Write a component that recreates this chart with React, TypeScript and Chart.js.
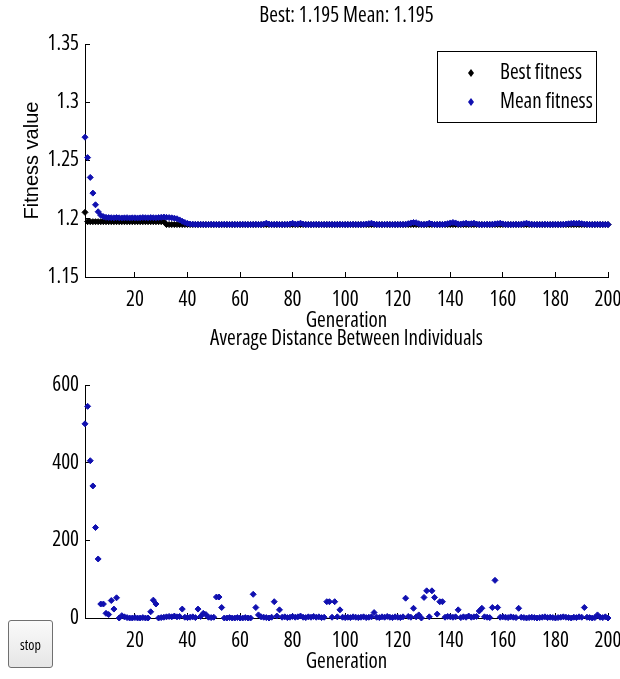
import React, { useEffect, useRef } from "react";
import { Chart, registerables } from "chart.js";

Chart.register(...registerables);

// ---------- data ----------
const generations: number[] = Array.from({ length: 200 }, (_, i) => i + 1);
const xTickValues = [20, 40, 60, 80, 100, 120, 140, 160, 180, 200];
const fitnessTickValues = [1.15, 1.2, 1.25, 1.3, 1.35];
const fitnessTickLabels = ["1.15", "1.2", "1.25", "1.3", "1.35"];
const distanceTickValues = [0, 200, 400, 600];

const topTitle = "Best: 1.195 Mean: 1.195";
const bottomTitle = "Average Distance Between Individuals";
const xLabel = "Generation";
const yLabelTop = "Fitness value";
const seriesLabels = ["Best fitness", "Mean fitness"];

const bestFitness = [
  1.2055, 1.1975, 1.1975, 1.1975, 1.1975, 1.1975, 1.1975, 1.1975, 1.1975, 1.1975,
  1.1975, 1.1975, 1.1975, 1.1975, 1.1975, 1.1975, 1.1975, 1.1975, 1.1975, 1.1975,
  1.1975, 1.1975, 1.1975, 1.1975, 1.1975, 1.1975, 1.1975, 1.1975, 1.1975, 1.1975,
  1.1975, 1.195, 1.195, 1.195, 1.195, 1.195, 1.195, 1.195, 1.195, 1.195,
  1.195, 1.195, 1.195, 1.195, 1.195, 1.195, 1.195, 1.195, 1.195, 1.195,
  1.195, 1.195, 1.195, 1.195, 1.195, 1.195, 1.195, 1.195, 1.195, 1.195,
  1.195, 1.195, 1.195, 1.195, 1.195, 1.195, 1.195, 1.195, 1.195, 1.195,
  1.195, 1.195, 1.195, 1.195, 1.195, 1.195, 1.195, 1.195, 1.195, 1.195,
  1.195, 1.195, 1.195, 1.195, 1.195, 1.195, 1.195, 1.195, 1.195, 1.195,
  1.195, 1.195, 1.195, 1.195, 1.195, 1.195, 1.195, 1.195, 1.195, 1.195,
  1.195, 1.195, 1.195, 1.195, 1.195, 1.195, 1.195, 1.195, 1.195, 1.195,
  1.195, 1.195, 1.195, 1.195, 1.195, 1.195, 1.195, 1.195, 1.195, 1.195,
  1.195, 1.195, 1.195, 1.195, 1.195, 1.195, 1.195, 1.195, 1.195, 1.195,
  1.195, 1.195, 1.195, 1.195, 1.195, 1.195, 1.195, 1.195, 1.195, 1.195,
  1.195, 1.195, 1.195, 1.195, 1.195, 1.195, 1.195, 1.195, 1.195, 1.195,
  1.195, 1.195, 1.195, 1.195, 1.195, 1.195, 1.195, 1.195, 1.195, 1.195,
  1.195, 1.195, 1.195, 1.195, 1.195, 1.195, 1.195, 1.195, 1.195, 1.195,
  1.195, 1.195, 1.195, 1.195, 1.195, 1.195, 1.195, 1.195, 1.195, 1.195,
  1.195, 1.195, 1.195, 1.195, 1.195, 1.195, 1.195, 1.195, 1.195, 1.195,
  1.195, 1.195, 1.195, 1.195, 1.195, 1.195, 1.195, 1.195, 1.195, 1.195,
];

const meanFitness = [
  1.27, 1.2525, 1.2355, 1.222, 1.212, 1.206, 1.203, 1.2018, 1.2012, 1.201,
  1.2009, 1.2008, 1.201, 1.2008, 1.2007, 1.2008, 1.2009, 1.2007, 1.2008, 1.2008,
  1.2007, 1.2008, 1.201, 1.2009, 1.2008, 1.201, 1.2009, 1.2008, 1.201, 1.2012,
  1.2015, 1.2012, 1.201, 1.2008, 1.2005, 1.2, 1.199, 1.1978, 1.1968, 1.196,
  1.1955, 1.1953, 1.1952, 1.1951, 1.1952, 1.1951, 1.195, 1.1951, 1.1952, 1.1951,
  1.1951, 1.195, 1.1951, 1.1952, 1.1951, 1.195, 1.1951, 1.1951, 1.195, 1.1951,
  1.1952, 1.1951, 1.195, 1.1951, 1.1951, 1.1952, 1.1951, 1.195, 1.1955, 1.1962,
  1.1954, 1.1951, 1.1951, 1.1952, 1.1951, 1.195, 1.1951, 1.1952, 1.1955, 1.1961,
  1.1954, 1.1956, 1.1962, 1.1955, 1.1951, 1.1951, 1.195, 1.1951, 1.1952, 1.1951,
  1.195, 1.1951, 1.1951, 1.1952, 1.1951, 1.195, 1.1951, 1.1952, 1.1951, 1.195,
  1.1951, 1.1951, 1.1952, 1.1951, 1.195, 1.1951, 1.1952, 1.1954, 1.1958, 1.1962,
  1.1955, 1.1951, 1.1951, 1.195, 1.1951, 1.1952, 1.1951, 1.195, 1.1951, 1.1951,
  1.1952, 1.1951, 1.1953, 1.1958, 1.1964, 1.1968, 1.1966, 1.1958, 1.1953, 1.1951,
  1.1955, 1.1962, 1.1955, 1.1951, 1.1951, 1.1952, 1.1951, 1.1953, 1.1958, 1.1964,
  1.1968, 1.1964, 1.1956, 1.1954, 1.1958, 1.1962, 1.1956, 1.1958, 1.1962, 1.1955,
  1.1951, 1.195, 1.1951, 1.1952, 1.1951, 1.1953, 1.1956, 1.1958, 1.1962, 1.1956,
  1.1952, 1.1951, 1.195, 1.1951, 1.1952, 1.1951, 1.1953, 1.1957, 1.1962, 1.1956,
  1.1952, 1.1951, 1.195, 1.1951, 1.1951, 1.1952, 1.1951, 1.195, 1.1951, 1.1952,
  1.1951, 1.1951, 1.1952, 1.1954, 1.1957, 1.196, 1.1962, 1.196, 1.1962, 1.1958,
  1.1954, 1.1952, 1.1951, 1.195, 1.1951, 1.1952, 1.1951, 1.195, 1.1951, 1.195,
];

const avgDistance = [
  500, 545, 405, 340, 233, 152, 36, 36, 12, 9,
  45, 23, 52, 0, 6, 3, 1, 0, 0, 1,
  0, 0, 1, 0, 0, 16, 46, 36, 0, 1,
  2, 3, 4, 3, 5, 3, 4, 23, 2, 1,
  2, 3, 1, 23, 4, 12, 9, 2, 1, 2,
  54, 54, 27, 0, 0, 1, 0, 0, 1, 0,
  0, 1, 0, 0, 61, 27, 8, 3, 2, 1,
  0, 2, 42, 5, 21, 2, 3, 1, 2, 4,
  2, 3, 5, 2, 1, 3, 2, 4, 2, 3,
  1, 2, 42, 42, 2, 42, 3, 21, 2, 1,
  2, 1, 3, 2, 1, 2, 3, 1, 2, 3,
  14, 2, 1, 3, 2, 4, 2, 1, 3, 2,
  1, 3, 51, 4, 2, 25, 3, 8, 0, 53,
  70, 3, 70, 53, 10, 42, 42, 2, 4, 3,
  2, 3, 21, 1, 3, 2, 5, 2, 3, 4,
  18, 25, 3, 2, 1, 27, 97, 27, 2, 3,
  2, 1, 3, 2, 1, 25, 2, 1, 0, 1,
  2, 1, 0, 1, 2, 3, 1, 2, 1, 0,
  1, 2, 3, 2, 1, 0, 2, 1, 3, 2,
  27, 2, 1, 0, 1, 8, 2, 1, 3, 0,
];

// ---------- style ----------
const BLACK = "#000000";
const BLUE = "#1010b0";
const WIDE = '"Liberation Sans", Arial, sans-serif';

type NarrowFont = { family: string; weight: string; stretch: string; size: number };

// pick the narrowest available sans font, sized so "Best fitness" is ~90px wide
function pickNarrowFont(): NarrowFont {
  const ctx = document.createElement("canvas").getContext("2d")!;
  const sample = "Best fitness";
  const target = 90;
  const measure = (font: string) => {
    ctx.font = font;
    return ctx.measureText(sample).width;
  };
  const available = (fam: string) => {
    const a = measure(`19px ${fam}, monospace`) !== measure("19px monospace");
    const b = measure(`19px ${fam}, serif`) !== measure("19px serif");
    return a || b;
  };
  const cands = [
    { family: '"Liberation Sans Narrow"', stretch: "normal" },
    { family: '"DejaVu Sans Condensed"', stretch: "normal" },
    { family: '"Liberation Sans"', stretch: "condensed" },
    { family: '"Noto Sans"', stretch: "condensed" },
    { family: '"Open Sans"', stretch: "condensed" },
    { family: '"DejaVu Sans"', stretch: "condensed" },
    { family: "Roboto", stretch: "normal" },
    { family: '"Liberation Sans"', stretch: "normal" },
  ];
  let best: NarrowFont = { family: WIDE, weight: "normal", stretch: "normal", size: 17 };
  let bestW = Infinity;
  for (const c of cands) {
    if (!available(c.family)) continue;
    const w = measure(`normal normal ${c.stretch} 19px ${c.family}`);
    if (w > 0 && w < bestW - 0.5) {
      bestW = w;
      best = {
        family: `${c.family}, sans-serif`,
        weight: c.stretch === "normal" ? "normal" : `normal ${c.stretch}`,
        stretch: c.stretch,
        size: Math.min(21, Math.round(((19 * target) / w) * 10) / 10),
      };
    }
  }
  return best;
}

function xScale(nf: NarrowFont, titleCenterFromBottom: number, boxHeight: number) {
  const lh = nf.size * 1.2;
  return {
    type: "linear" as const,
    min: 1,
    max: 200,
    afterBuildTicks: (s: any) => {
      s.ticks = xTickValues.map((v) => ({ value: v }));
    },
    afterFit: (s: any) => {
      s.height = boxHeight;
      s.paddingLeft = 0;
      s.paddingRight = 0;
    },
    grid: { drawOnChartArea: false, drawTicks: true, tickLength: -5, color: BLACK, lineWidth: 1 },
    border: { display: true, color: BLACK, width: 1 },
    ticks: {
      color: BLACK,
      font: { family: nf.family, size: nf.size, weight: nf.weight },
      padding: 5 + 23 - lh / 2,
      maxRotation: 0,
      autoSkip: false,
    },
    title: {
      display: true,
      text: xLabel,
      color: BLACK,
      font: { family: nf.family, size: nf.size, weight: nf.weight },
      padding: { top: 0, bottom: titleCenterFromBottom - lh / 2 },
    },
  };
}

function yScale(nf: NarrowFont, min: number, max: number, tickValues: number[], tickLabels: string[] | null, withTitle: boolean) {
  return {
    type: "linear" as const,
    min,
    max,
    afterBuildTicks: (s: any) => {
      s.ticks = tickValues.map((v) => ({ value: v }));
    },
    afterFit: (s: any) => {
      s.width = 85;
      s.paddingTop = 0;
      s.paddingBottom = 0;
    },
    grid: { drawOnChartArea: false, drawTicks: true, tickLength: -5, color: BLACK, lineWidth: 1 },
    border: { display: true, color: BLACK, width: 1 },
    ticks: {
      color: BLACK,
      font: { family: nf.family, size: nf.size, weight: nf.weight },
      padding: 11,
      autoSkip: false,
      callback: (v: number) => {
        if (!tickLabels) return String(v);
        const i = tickValues.indexOf(v);
        return i >= 0 ? tickLabels[i] : String(v);
      },
    },
    title: {
      display: withTitle,
      text: yLabelTop,
      color: BLACK,
      font: { family: WIDE, size: 20 },
      padding: { top: 20, bottom: 0 },
    },
  };
}

function makeLegendPlugin(nf: NarrowFont) {
  return {
    id: "legendBox",
    afterDatasetsDraw(chart: any) {
      const { ctx, chartArea } = chart;
      const left = chartArea.right - 171;
      const top = chartArea.top + 7;
      const w = 159;
      const h = 71;
      ctx.save();
      ctx.fillStyle = "#ffffff";
      ctx.fillRect(left, top, w, h);
      ctx.strokeStyle = BLACK;
      ctx.lineWidth = 1;
      ctx.strokeRect(Math.round(left) + 0.5, Math.round(top) + 0.5, w, h);
      ctx.font = `normal ${nf.weight} ${nf.size}px ${nf.family}`;
      ctx.textBaseline = "middle";
      ctx.textAlign = "left";
      chart.data.datasets.forEach((ds: any, i: number) => {
        const cy = top + 22 + i * 29;
        const cx = left + 34;
        ctx.fillStyle = ds.backgroundColor;
        ctx.beginPath();
        ctx.moveTo(cx - 3, cy);
        ctx.lineTo(cx, cy - 4);
        ctx.lineTo(cx + 3, cy);
        ctx.lineTo(cx, cy + 4);
        ctx.closePath();
        ctx.fill();
        ctx.fillStyle = BLACK;
        ctx.fillText(ds.label, left + 63, cy);
      });
      ctx.restore();
    },
  };
}

function pointsOf(values: number[]) {
  return generations.map((g, i) => ({ x: g, y: values[i] }));
}

function marker(color: string) {
  return {
    pointStyle: "rectRot" as const,
    pointRadius: 3,
    pointBorderWidth: 1,
    backgroundColor: color,
    borderColor: color,
    showLine: false,
    clip: false as any,
  };
}

// layout (page pixels)
const TOP_CANVAS_H = 335; // canvas 1: 0..335, plot 44..277
const BOT_CANVAS_TOP = 320; // canvas 2: 320..679, plot 385..618
const BOT_CANVAS_H = 679 - BOT_CANVAS_TOP;

export default function App() {
  const topRef = useRef<HTMLCanvasElement>(null);
  const bottomRef = useRef<HTMLCanvasElement>(null);
  const btnRef = useRef<HTMLButtonElement>(null);

  useEffect(() => {
    const nf = pickNarrowFont();
    const lh = nf.size * 1.2;
    if (btnRef.current) {
      btnRef.current.style.fontFamily = nf.family;
      (btnRef.current.style as any).fontStretch = nf.stretch;
    }

    // top title centre at y=16, plot top at 44
    const tTop = 16 - lh / 2;
    const topChart = new Chart(topRef.current!, {
      type: "scatter",
      data: {
        datasets: [
          { label: seriesLabels[0], data: pointsOf(bestFitness), order: 1, ...marker(BLACK) },
          { label: seriesLabels[1], data: pointsOf(meanFitness), order: 0, ...marker(BLUE) },
        ],
      },
      options: {
        animation: false,
        responsive: false,
        devicePixelRatio: 1,
        layout: { padding: { left: 0, right: 12, top: 0, bottom: 0 } },
        plugins: {
          legend: { display: false },
          tooltip: { enabled: false },
          title: {
            display: true,
            fullSize: false,
            text: topTitle,
            color: BLACK,
            font: { family: nf.family, size: nf.size, weight: nf.weight },
            padding: { top: tTop, bottom: 44 - tTop - lh },
          },
        },
        scales: {
          x: xScale(nf, TOP_CANVAS_H - 321, TOP_CANVAS_H - 277),
          y: yScale(nf, 1.15, 1.35, fitnessTickValues, fitnessTickLabels, true),
        },
      } as any,
      plugins: [makeLegendPlugin(nf)],
    });

    // bottom title centre at y=339, plot top at 385
    const bTitleC = 339 - BOT_CANVAS_TOP;
    const bPlotTop = 385 - BOT_CANVAS_TOP;
    const bTop = bTitleC - lh / 2;
    const bottomChart = new Chart(bottomRef.current!, {
      type: "scatter",
      data: {
        datasets: [{ label: bottomTitle, data: pointsOf(avgDistance), ...marker(BLUE) }],
      },
      options: {
        animation: false,
        responsive: false,
        devicePixelRatio: 1,
        layout: { padding: { left: 0, right: 12, top: 0, bottom: 0 } },
        plugins: {
          legend: { display: false },
          tooltip: { enabled: false },
          title: {
            display: true,
            fullSize: false,
            text: bottomTitle,
            color: BLACK,
            font: { family: nf.family, size: nf.size, weight: nf.weight },
            padding: { top: bTop, bottom: bPlotTop - bTop - lh },
          },
        },
        scales: {
          x: xScale(nf, 679 - 662, 679 - 618),
          y: yScale(nf, 0, 600, distanceTickValues, null, false),
        },
      } as any,
    });

    return () => {
      topChart.destroy();
      bottomChart.destroy();
    };
  }, []);

  return (
    <div style={{ position: "absolute", left: 0, top: 0, width: 620, height: 679, background: "#ffffff", overflow: "hidden" }}>
      <canvas ref={topRef} width={620} height={TOP_CANVAS_H} style={{ position: "absolute", left: 0, top: 0, width: 620, height: TOP_CANVAS_H }} />
      <canvas ref={bottomRef} width={620} height={BOT_CANVAS_H} style={{ position: "absolute", left: 0, top: BOT_CANVAS_TOP, width: 620, height: BOT_CANVAS_H }} />
      <button
        ref={btnRef}
        style={{
          position: "absolute",
          left: 8,
          top: 620,
          width: 45,
          height: 48,
          padding: 0,
          fontFamily: WIDE,
          fontSize: 14,
          color: "#000",
          background: "linear-gradient(#fafafa, #e6e6e6)",
          border: "1px solid #707070",
          borderRadius: 3,
        }}
      >
        stop
      </button>
    </div>
  );
}
